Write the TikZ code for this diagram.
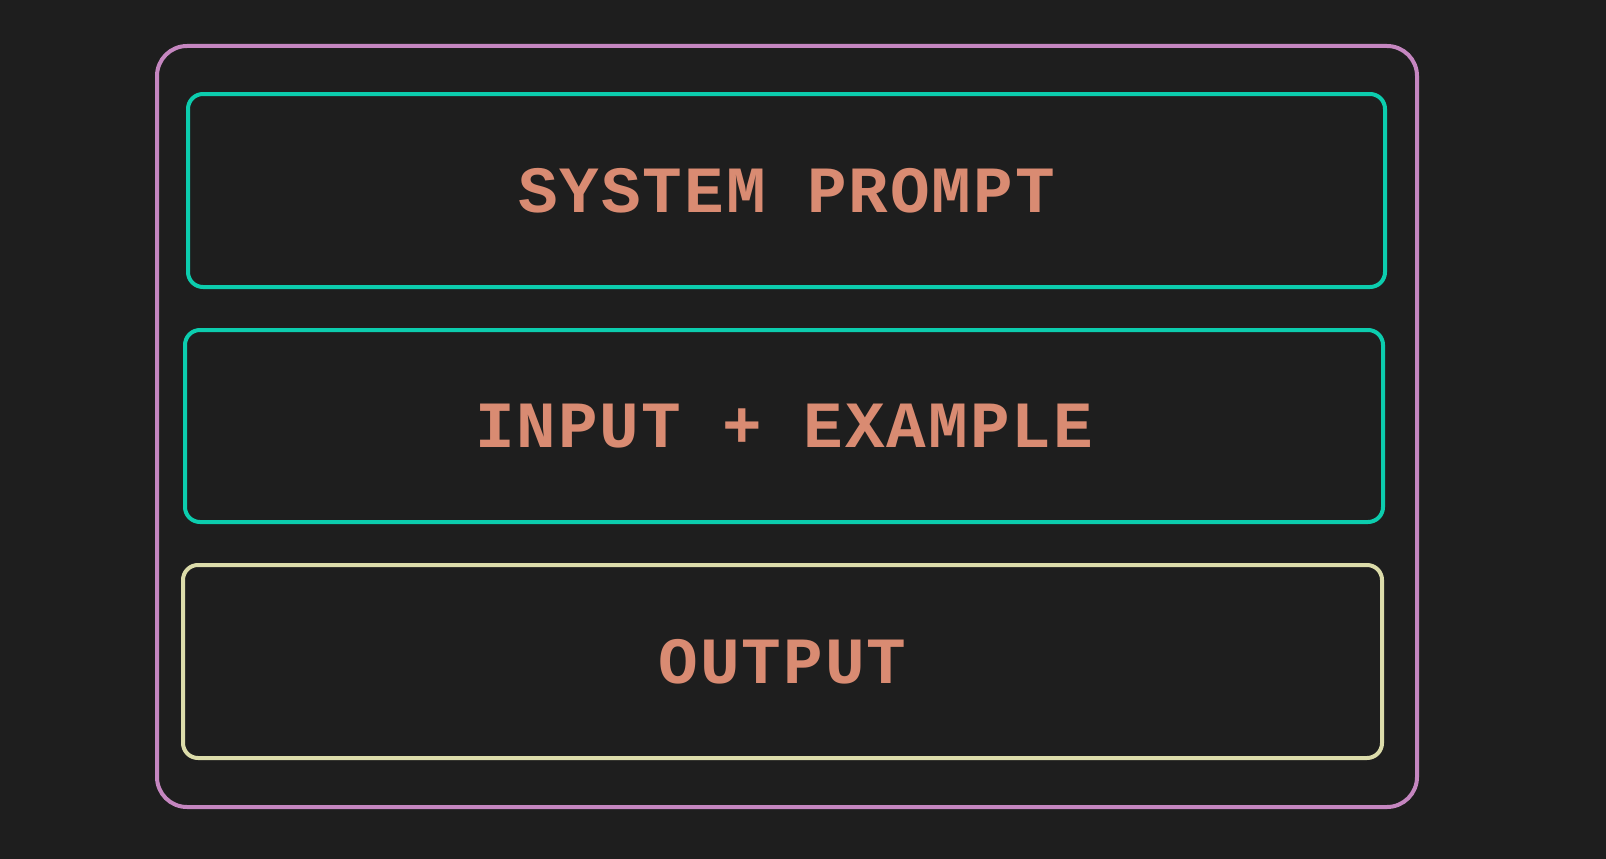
\documentclass[tikz,border=0pt]{standalone}
\usepackage{fontspec}
\newfontfamily\lblfont{Liberation Mono}[LetterSpace=3]
\definecolor{bg}{HTML}{1E1E1E}
\definecolor{pinkc}{HTML}{C586C0}
\definecolor{tealc}{HTML}{0CCDAE}
\definecolor{yelc}{HTML}{DCDCAA}
\definecolor{txtc}{HTML}{D98B72}
\begin{document}
\begin{tikzpicture}[x=1pt,y=-1pt,
  layer/.style={draw, line width=4pt, rounded corners=15pt},
  lbl/.style={font=\fontsize{66}{66}\selectfont\lblfont\bfseries, text=txtc, inner sep=0pt}]
\fill[bg] (0,0) rectangle (1606,859);
\useasboundingbox (0,0) rectangle (1606,859);
\draw[pinkc, line width=4pt, rounded corners=30pt] (157,46) rectangle (1417,807);
\draw[layer, tealc] (188,94) rectangle (1385,287) node[pos=0.5, lbl] (sys) {SYSTEM PROMPT};
\draw[layer, tealc] (185,330) rectangle (1383,522) node[pos=0.5, lbl] (inp) {INPUT + EXAMPLE};
\draw[layer, yelc] (183,565) rectangle (1382,758) node[pos=0.5, lbl] (out) {OUTPUT};
\end{tikzpicture}
\end{document}
